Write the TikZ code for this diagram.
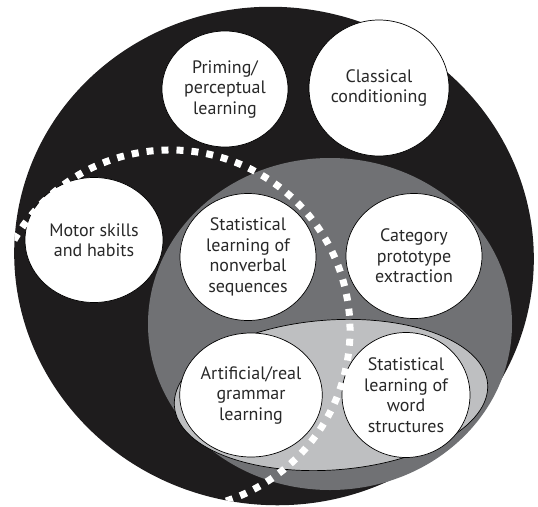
\documentclass[tikz,border=0pt]{standalone}
\usepackage{fontspec}
\setmainfont{PT Sans}
\usepackage{tikz}
\usetikzlibrary{shapes.geometric}

\definecolor{inkblack}{RGB}{30,28,29}
\definecolor{midgray}{RGB}{112,113,116}
\definecolor{palegray}{RGB}{190,191,193}
\definecolor{textgray}{RGB}{40,40,40}

\tikzset{
  bubble/.style 2 args={ellipse, draw=black, line width=0.7pt, fill=white, inner sep=0pt,
    align=center, text=textgray, font=\fontsize{18}{20.5}\selectfont,
    minimum width=#1, minimum height=#2},
  gapline/.style={white, line width=7pt, dash pattern=on 7pt off 8pt}
}

\begin{document}
\begin{tikzpicture}[x=1pt, y=-1pt]
\useasboundingbox (0,0) rectangle (538,506);

\fill[inkblack, rotate around={-8:(274,256)}] (274,256) ellipse (260 and 249); % outer field

\draw (225,89) node[bubble={126pt}{116pt}] (priming) {Priming/\\perceptual\\learning};
\draw (379,88) node[bubble={140pt}{136pt}] (classical) {Classical\\conditioning};
\draw (94,240) node[bubble={138pt}{125pt}] (motor) {Motor skills\\and habits};

\fill[midgray] (330,324) ellipse (182 and 166); % statistical learning
\filldraw[fill=palegray, draw=black, line width=0.7pt, rotate around={4:(331,395)}] (331,395) ellipse (157 and 75); % language

\draw (248,257) node[bubble={136pt}{127pt}] (nonverbal) {Statistical\\learning of\\nonverbal\\sequences};
\draw (414,256) node[bubble={136pt}{125pt}] (category) {Category\\prototype\\extraction};
\draw (251,395) node[bubble={132pt}{124pt}] (grammar) {Artificial/real\\grammar\\learning};
\draw (406,395) node[bubble={128pt}{125pt}] (word) {Statistical\\learning of\\word\\structures};

% implicit / explicit border
\begin{scope}
\clip[rotate around={-8:(274,256)}] (274,256) ellipse (260 and 249);
\draw[gapline] ([shift={(-150:180)}]170,330) arc[start angle=-150, end angle=90, radius=180];
\end{scope}

\end{tikzpicture}
\end{document}
